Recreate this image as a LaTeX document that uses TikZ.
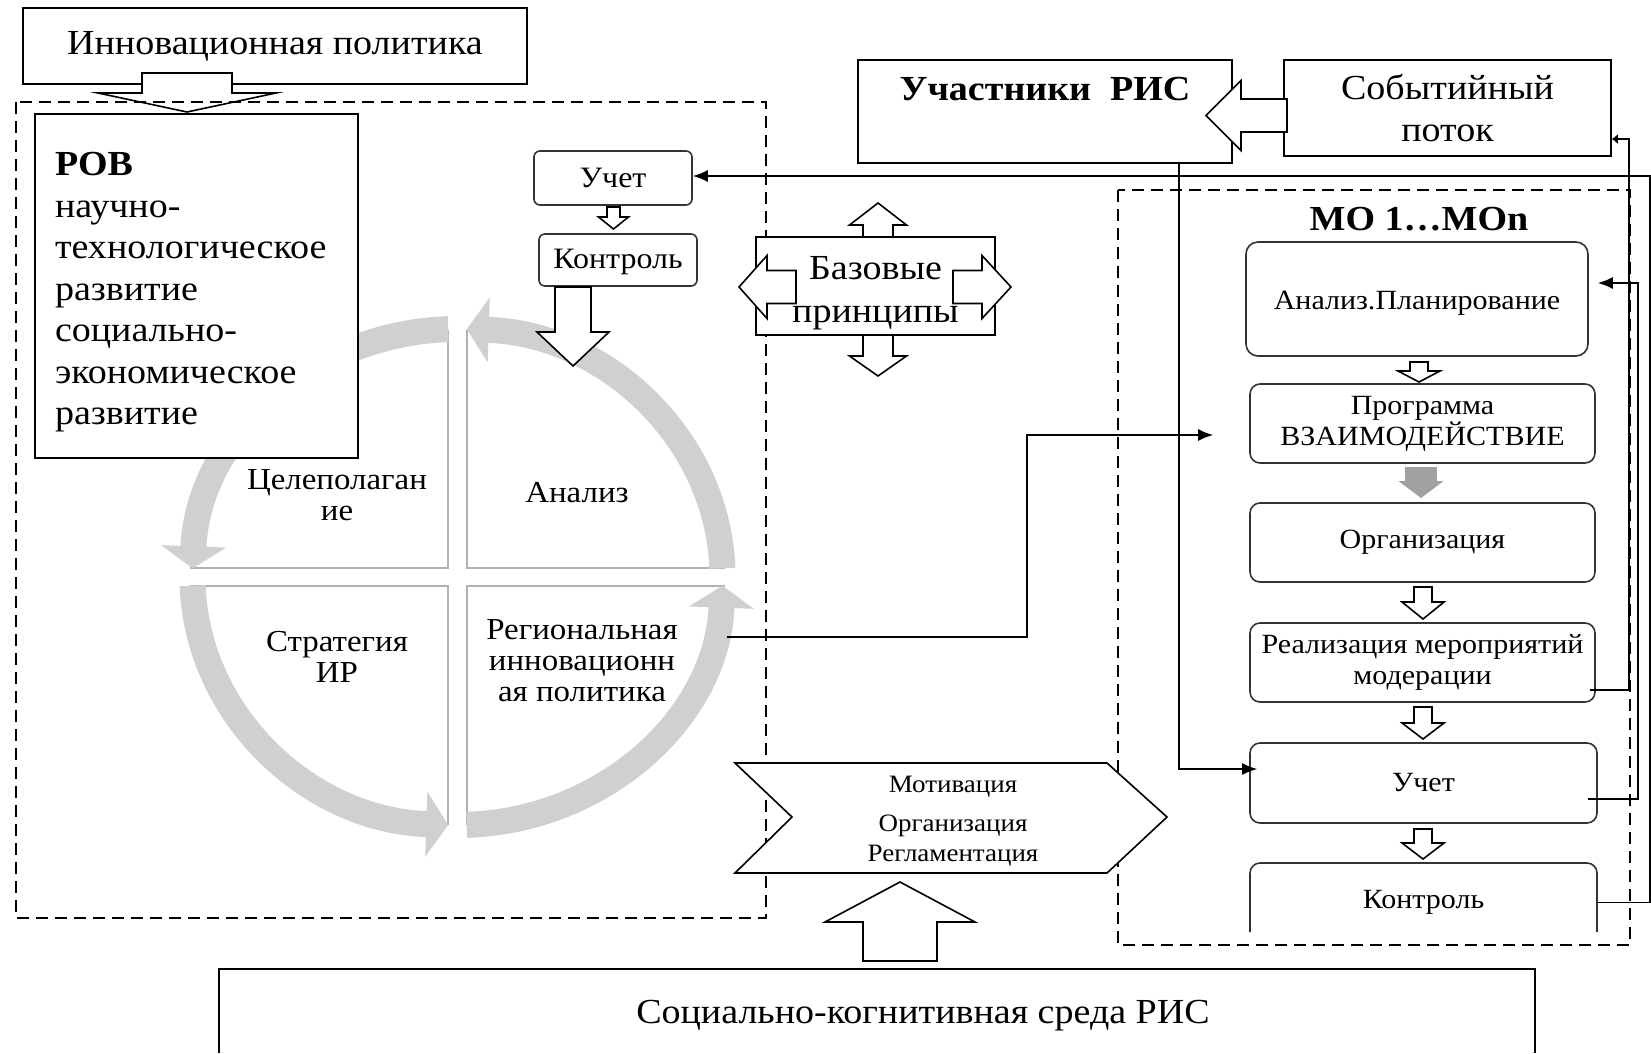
\documentclass[tikz,border=0pt]{standalone}
\usepackage{fontspec}
\setmainfont[FakeStretch=1.08]{Liberation Serif}
\usetikzlibrary{arrows.meta,positioning,calc}

\definecolor{ringgray}{RGB}{208,208,208}
\definecolor{qgray}{RGB}{178,178,178}
\definecolor{arrgray}{RGB}{160,160,160}

\newcommand{\fntbig}{\fontsize{35.2}{41.5}\selectfont}
\newcommand{\fntbase}{\fontsize{35.2}{43}\selectfont}
\newcommand{\fntquad}{\fontsize{30.5}{31}\selectfont}
\newcommand{\fntsmall}{\fontsize{29.6}{32}\selectfont}
\newcommand{\fntcol}{\fontsize{27.8}{31}\selectfont}
\newcommand{\fntmot}{\fontsize{25}{30}\selectfont}

\tikzset{
  box/.style={draw, line width=1.6pt, inner sep=0pt, fill=white},
  rbox/.style={box, draw=black!80, rounded corners=10pt},
  frame/.style={line width=1.4pt, dash pattern=on 12pt off 7pt},
  conn/.style={line width=1.6pt, -{Latex[length=15pt,width=12pt]}},
  ring/.style={line width=26pt, draw=ringgray, -{Triangle[length=22pt,width=64pt]}},
  qline/.style={line width=2.5pt, draw=qgray},
  barrowline/.style={draw, line width=1.6pt, fill=white, line join=miter},
  pics/barrow/.style n args={4}{code={
    \path[barrowline] (-#3,0) -- (-#3,#1-#2) -- (-#4,#1-#2) -- (0,#1)
      -- (#4,#1-#2) -- (#3,#1-#2) -- (#3,0) -- cycle;
  }},
}

\begin{document}
\begin{tikzpicture}[x=1pt,y=-1pt]
\useasboundingbox (0,0) rectangle (1651,1053);

% Инновационная политика
\node[box, minimum width=504, minimum height=76, font=\fntbig] (innov) at (275,46) {Инновационная политика};
\pic at (187,73) {barrow={39}{19}{45}{89}};

% рамки
\draw[frame] (16,102) rectangle (766,918);
\draw[frame] (1118,190) rectangle (1630,945);

% цикл
\coordinate (cyc) at (457.5,577);
\draw[qline] (448,330) -- (448,568) -- (190,568);
\draw[qline] (467,330) -- (467,568) -- (725,568);
\draw[qline] (190,586) -- (448,586) -- (448,825);
\draw[qline] (725,586) -- (467,586) -- (467,825);
\draw[ring] ($(cyc)+(268:265 and 248)$) arc[start angle=268, end angle=182, x radius=265, y radius=248];
\draw[ring] ($(cyc)+(358:265 and 248)$) arc[start angle=358, end angle=272, x radius=265, y radius=248];
\draw[ring] ($(cyc)+(178:265 and 248)$) arc[start angle=178, end angle=92, x radius=265, y radius=248];
\draw[ring] ($(cyc)+(88:265 and 248)$) arc[start angle=88, end angle=2, x radius=265, y radius=248];
\node[font=\fntquad, align=center] (qgoal) at (337,495) {Целеполаган\\ие};
\node[font=\fntquad] (qanal) at (577,493) {Анализ};
\node[font=\fntquad, align=center] (qstrat) at (337,657) {Стратегия\\ИР};
\node[font=\fntquad, align=center] (qpol) at (582,661) {Региональная\\инновационн\\ая политика};

% РОВ
\node[box, minimum width=323, minimum height=344, align=left, text width=283, font=\fntbig] (rov) at (196.5,286)
  {\rule{0pt}{36pt}\textbf{РОВ}\\научно-\\технологическое\\развитие\\социально-\\экономическое\\развитие};

% Учет, Контроль
\node[rbox, rounded corners=6pt, minimum width=158, minimum height=54, font=\fntsmall] (uchetL) at (613,178) {Учет};
\node[rbox, rounded corners=6pt, minimum width=158, minimum height=52, font=\fntsmall] (kontrL) at (618,260) {\raisebox{-2pt}[\height][\depth]{Контроль}};
\pic at (613.5,207) {barrow={22}{12}{6.5}{15}};
\pic at (573,287) {barrow={79}{34}{18}{36}};

% Участники РИС, Событийный поток
\node[box, minimum width=374, minimum height=103,
  label={[font=\fntbig\bfseries, anchor=center, yshift=-30pt]north:Участники~~РИС}] (uch) at (1045,111.5) {};
\node[box, minimum width=327, minimum height=96, align=center, font=\fntbig] (sob) at (1447.5,108) {Событийный\\поток};
\pic[rotate=-90] at (1287,115.5) {barrow={81}{35}{16.5}{35}};

% Базовые принципы
\node[box, minimum width=239, minimum height=98] (base) at (875.5,286) {};
\pic[rotate=180] at (878,237) {barrow={34}{22}{15}{28.5}};
\pic at (878,335) {barrow={41}{20}{15}{28.5}};
\pic[rotate=-90] at (796,287) {barrow={57}{28}{16.5}{31.5}};
\pic[rotate=90] at (953,287) {barrow={58}{29}{16.5}{31.5}};
\node[align=center, font=\fntbase] (basetxt) at (875.5,293) {Базовые\\принципы};

% МО 1...МОn
\node[font=\fntbig\bfseries] (motitle) at (1419,219) {МО 1…МОn};
\node[rbox, rounded corners=12pt, minimum width=342, minimum height=114, font=\fntcol] (ap) at (1417,299) {\raisebox{-4pt}[\height][\depth]{Анализ.Планирование}};
\node[rbox, minimum width=345, minimum height=79, align=center, font=\fntcol] (prog) at (1422.5,423.5) {Программа\\ВЗАИМОДЕЙСТВИЕ};
\node[rbox, minimum width=345, minimum height=79, font=\fntcol] (org) at (1422.5,542.5) {Организация};
\node[rbox, minimum width=345, minimum height=79, align=center, font=\fntcol] (real) at (1422.5,662.5) {Реализация мероприятий\\модерации};
\node[rbox, minimum width=347, minimum height=80, font=\fntcol] (uchetR) at (1423.5,783) {Учет};
\node[inner sep=0pt, minimum width=347, minimum height=79, font=\fntcol] (kontrR) at (1423.5,902.5) {Контроль};
\draw[line width=1.6pt, draw=black!80, rounded corners=10pt] (1250,932) -- (1250,863) -- (1597,863) -- (1597,932);
\pic at (1419,362) {barrow={20}{11}{9}{21}};
\pic[barrowline/.append style={fill=arrgray, draw=arrgray}] at (1421,468) {barrow={29}{15}{15}{20}};
\pic at (1423,587) {barrow={32}{17}{9}{21}};
\pic at (1423,707) {barrow={32}{16}{9}{21}};
\pic at (1423,829) {barrow={30}{16}{9}{21}};

% Мотивация
\draw[box] (735,763) -- (1107,763) -- (1167,817) -- (1107,873) -- (735,873) -- (792,817) -- cycle;
\node[align=center, font=\fntmot] (motiv) at (953,821) {Мотивация\\[9pt]Организация\\Регламентация};
\pic[rotate=180] at (900,961) {barrow={79}{40}{37}{75}};

% Социально-когнитивная среда
\draw[line width=1.6pt] (219,1053) -- (219,969) -- (1535,969) -- (1535,1053);
\node[font=\fntbig] (soc) at (923,1016) {Социально-когнитивная среда РИС};

% связи
\coordinate (regout) at (727,637);
\coordinate (uchdrop) at ([xshift=134pt]uch.south);
\draw[conn] (kontrR.east) -- ++(53,0) |- ([yshift=2pt]uchetL.east);
\draw[conn] ([xshift=-10pt,yshift=-16pt]uchetR.east) -- ++(50,0) |- ([xshift=9pt,yshift=16pt]ap.east);
\draw[line width=1.6pt, {Latex[length=6pt,width=10pt]}-] ([yshift=-31pt]sob.east) -- ++(17,0) |- ([xshift=-6pt,yshift=-27.5pt]real.east);
\draw[conn] (uchdrop) |- ([xshift=8pt,yshift=14pt]uchetR.west);
\draw[conn] (regout) -- ++(300,0) |- ([xshift=-36pt,yshift=-11.5pt]prog.west);

\end{tikzpicture}
\end{document}
